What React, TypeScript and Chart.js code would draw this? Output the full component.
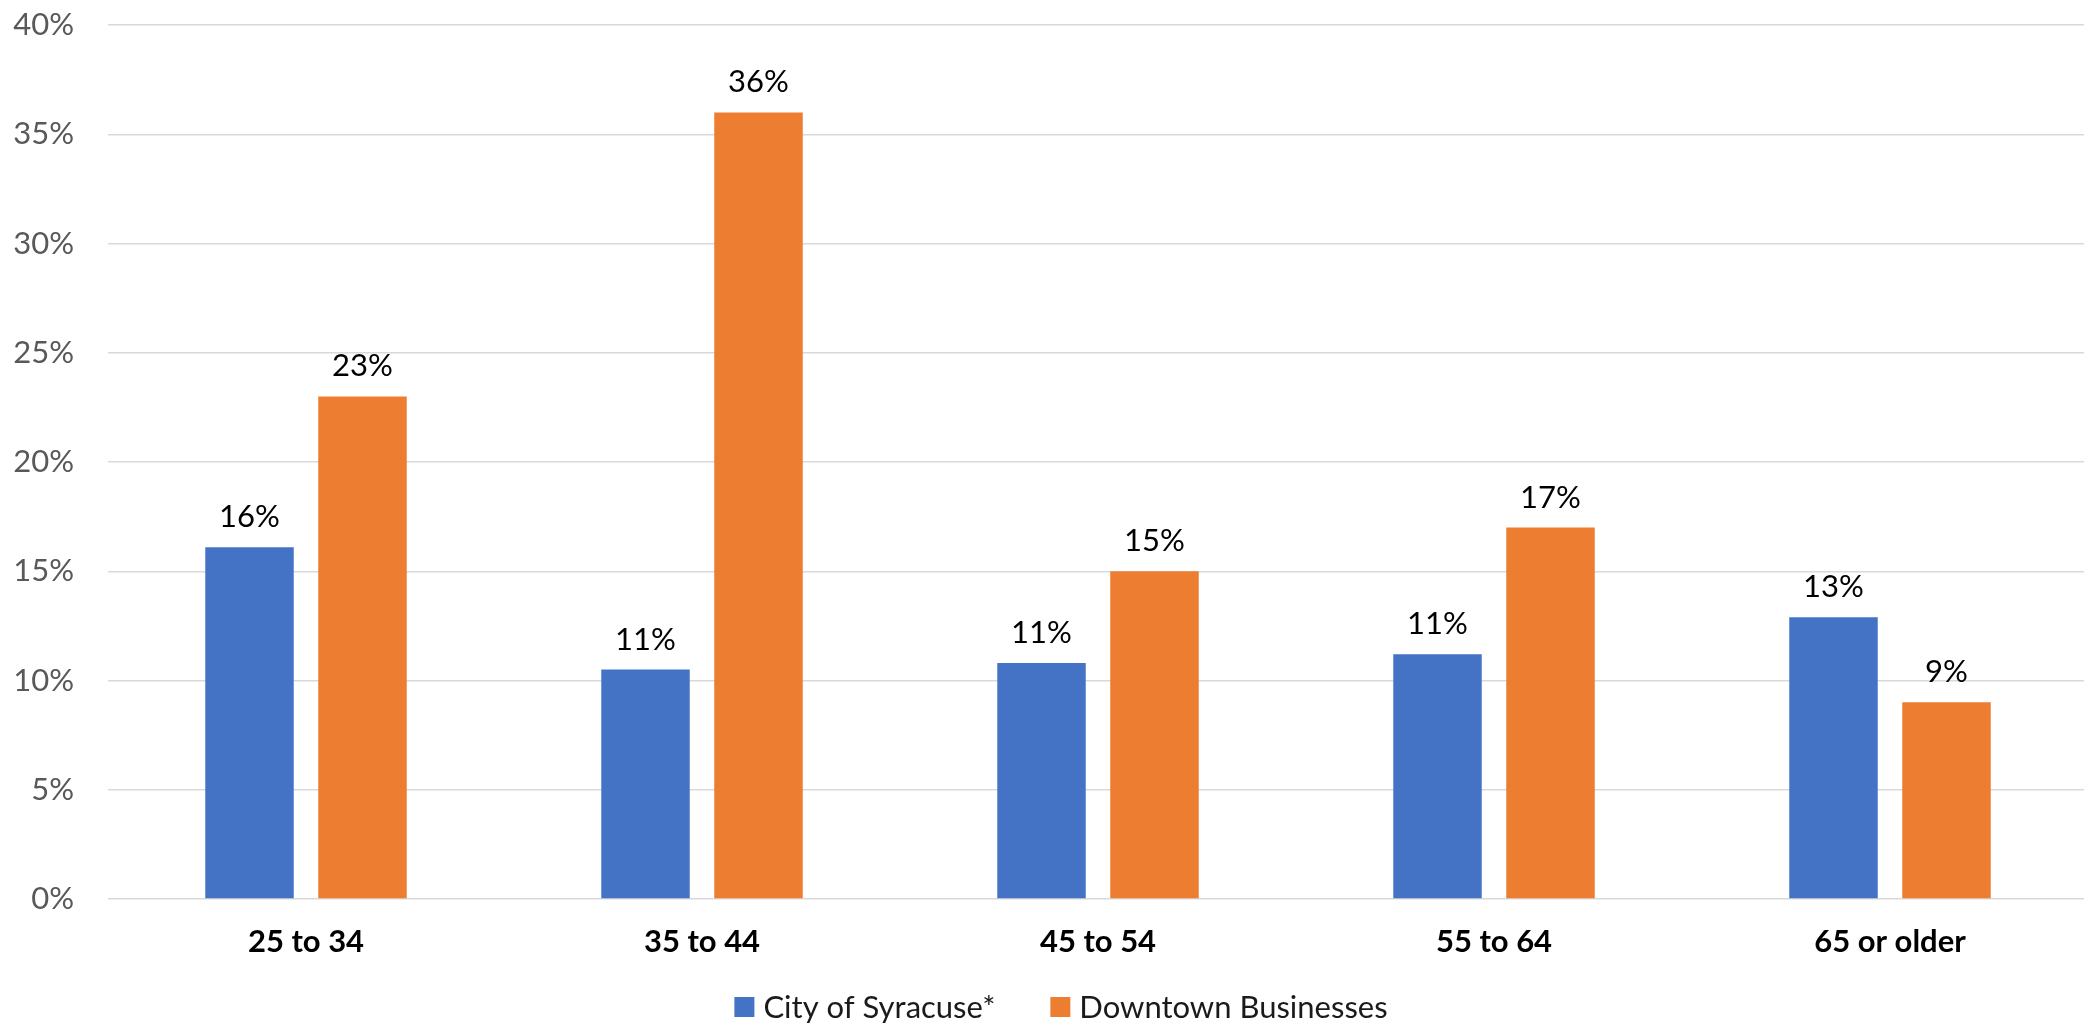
import React, { useEffect, useRef } from "react";
import { Chart, registerables } from "chart.js";

Chart.register(...registerables);

const categories = ["25 to 34", "35 to 44", "45 to 54", "55 to 64", "65 or older"];
const seriesNames = ["City of Syracuse*", "Downtown Businesses"];
const cityValues = [16.1, 10.5, 10.8, 11.2, 12.9];
const downtownValues = [23.0, 36.0, 15.0, 17.0, 9.0];
const yMin = 0;
const yMax = 40;
const yStep = 5;
const seriesColors = ["#4472C4", "#ED7D31"];

const FONT = "Lato, 'Open Sans', sans-serif";
const FONT_SIZE = 31;

const dataLabelPlugin = {
  id: "dataLabels",
  afterDatasetsDraw(chart: any) {
    const ctx = chart.ctx;
    ctx.save();
    ctx.font = `${FONT_SIZE}px ${FONT}`;
    ctx.fillStyle = "#000000";
    ctx.textAlign = "center";
    ctx.textBaseline = "alphabetic";
    chart.data.datasets.forEach((ds: any, i: number) => {
      const meta = chart.getDatasetMeta(i);
      meta.data.forEach((bar: any, j: number) => {
        const v = ds.data[j];
        ctx.fillText(`${Math.round(v)}%`, bar.x, bar.y - 20);
      });
    });
    ctx.restore();
  },
};

const customLegendPlugin = {
  id: "customLegend",
  afterDraw(chart: any) {
    const ctx = chart.ctx;
    ctx.save();
    ctx.font = `${FONT_SIZE}px ${FONT}`;
    const box = 20;
    const boxGap = 9;
    const itemGap = 55;
    const centerX = 1061;
    const centerY = 1007;
    const items = chart.data.datasets.map((ds: any) => ({
      text: ds.label,
      color: ds.backgroundColor,
      w: ctx.measureText(ds.label).width,
    }));
    let total = 0;
    items.forEach((it: any, i: number) => {
      total += box + boxGap + it.w + (i < items.length - 1 ? itemGap : 0);
    });
    let x = centerX - total / 2;
    ctx.textBaseline = "middle";
    ctx.textAlign = "left";
    items.forEach((it: any) => {
      ctx.fillStyle = it.color;
      ctx.fillRect(x, centerY - box / 2, box, box);
      x += box + boxGap;
      ctx.fillStyle = "#1a1a1a";
      ctx.fillText(it.text, x, centerY + 1);
      x += it.w + itemGap;
    });
    ctx.restore();
  },
};

export default function App() {
  const canvasRef = useRef<HTMLCanvasElement | null>(null);

  useEffect(() => {
    document.body.style.margin = "0";
    document.body.style.overflow = "hidden";
    const canvas = canvasRef.current;
    if (!canvas) return;
    const chart = new Chart(canvas, {
      type: "bar",
      data: {
        labels: categories,
        datasets: [
          {
            label: seriesNames[0],
            data: cityValues,
            backgroundColor: seriesColors[0],
            categoryPercentage: 0.5707,
            barPercentage: 0.783,
          },
          {
            label: seriesNames[1],
            data: downtownValues,
            backgroundColor: seriesColors[1],
            categoryPercentage: 0.5707,
            barPercentage: 0.783,
          },
        ],
      },
      options: {
        animation: false,
        responsive: false,
        maintainAspectRatio: false,
        layout: { padding: { top: 25, left: 0, right: 0, bottom: 0 } },
        plugins: {
          legend: { display: false },
          tooltip: { enabled: false },
          title: { display: false },
        },
        scales: {
          x: {
            grid: { display: false },
            border: { display: false },
            ticks: {
              color: "#000000",
              font: { family: FONT, size: FONT_SIZE, weight: "bold" },
              padding: 16,
              maxRotation: 0,
            },
            afterFit(scale: any) {
              scale.height = 125;
              scale.paddingLeft = 0;
              scale.paddingRight = 0;
            },
          },
          y: {
            min: yMin,
            max: yMax,
            border: { display: false },
            grid: { color: "#D9D9D9", lineWidth: 1.5, drawTicks: false },
            ticks: {
              stepSize: yStep,
              color: "#595959",
              font: { family: FONT, size: FONT_SIZE },
              padding: 34,
              callback: (v: any) => `${v}%`,
            },
            afterFit(scale: any) {
              scale.width = 108;
              scale.paddingTop = 0;
              scale.paddingBottom = 0;
            },
          },
        },
      },
      plugins: [dataLabelPlugin, customLegendPlugin],
    });
    return () => chart.destroy();
  }, []);

  return (
    <div style={{ position: "fixed", left: 0, top: 0, width: 2088, height: 1024, background: "#fff" }}>
      <canvas ref={canvasRef} width={2088} height={1024} style={{ width: 2088, height: 1024 }} />
    </div>
  );
}
